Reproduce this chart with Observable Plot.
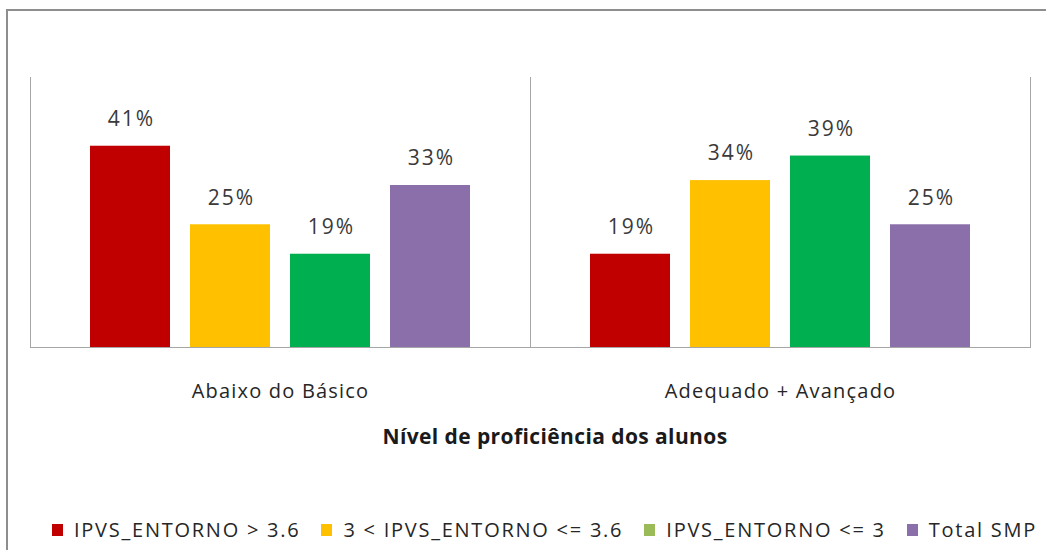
<!DOCTYPE html>
<html>
<head>
<meta charset="utf-8">
<script src="https://cdn.jsdelivr.net/npm/d3@7"></script>
<script src="https://cdn.jsdelivr.net/npm/@observablehq/plot@0.6"></script>
<style>
  html, body { margin: 0; padding: 0; background: #fff; overflow: hidden; width: 1046px; height: 550px; }
  #box { position: absolute; left: 6px; top: 9px; width: 1100px; height: 600px;
         border-left: 2px solid #8e8e8e; border-top: 2px solid #8e8e8e; }
  #chart { position: absolute; left: 0; top: 0; }
  #title { position: absolute; left: 0; width: 1110px; top: 422px; text-align: center;
           font-family: "Open Sans", sans-serif; font-weight: 700; font-size: 21px; letter-spacing: 0.4px;
           color: #1a1a1a; white-space: nowrap; }
  #legend { position: absolute; left: 52px; top: 516px; display: flex; gap: 21px; white-space: nowrap;
            font-family: "Open Sans", sans-serif; font-size: 20px; letter-spacing: 1.75px; color: #262626; }
  .item { display: flex; align-items: center; }
  .sw { width: 11px; height: 12px; margin-right: 11px; flex: none; }
  .c g[aria-label="text"] text { letter-spacing: 2px; }
  .c g[aria-label="fx-axis tick label"] text { letter-spacing: 1.2px; }
</style>
</head>
<body>
<div id="box"></div>
<div id="chart"></div>
<div id="title"></div>
<div id="legend"></div>
<script>
const categories = ["Abaixo do Básico", "Adequado + Avançado"];
const seriesNames = ["IPVS_ENTORNO > 3.6", "3 < IPVS_ENTORNO <= 3.6", "IPVS_ENTORNO <= 3", "Total SMP"];
const seriesColors = ["#C00000", "#FFC000", "#00B050", "#8A6FAB"];
const legendColors = ["#C00000", "#FFC000", "#9BBB59", "#8A6FAB"];
const valuesAbaixo = [0.41, 0.25, 0.19, 0.33];
const valuesAdequado = [0.19, 0.34, 0.39, 0.25];
const axisTitle = "Nível de proficiência dos alunos";

const data = [];
[valuesAbaixo, valuesAdequado].forEach((vals, ci) => {
  vals.forEach((v, si) => data.push({category: categories[ci], series: seriesNames[si], value: v}));
});

const chart = Plot.plot({
  className: "c",
  width: 1046,
  height: 420,
  marginTop: 77,
  marginBottom: 73,
  marginLeft: 30,
  marginRight: 16,
  style: {fontFamily: "'Open Sans', sans-serif", background: "transparent"},
  fx: {domain: categories, padding: 0},
  x: {domain: seriesNames, paddingInner: 0.2, paddingOuter: 0.6, axis: null},
  y: {domain: [0, 0.55], axis: null},
  color: {domain: seriesNames, range: seriesColors},
  marks: [
    Plot.barY(data, {fx: "category", x: "series", y: "value", fill: "series"}),
    Plot.text(data, {fx: "category", x: "series", y: "value", text: d => Math.round(d.value * 100) + "%",
      dy: -27, dx: 1, fontSize: 21, fill: "#3a3a3a"}),
    Plot.frame({anchor: "left", stroke: "#a6a6a6"}),
    Plot.frame({anchor: "right", stroke: "#a6a6a6"}),
    Plot.ruleY([0], {stroke: "#a6a6a6"}),
    Plot.axisFx({anchor: "bottom", tickSize: 0, tickPadding: 36, fontSize: 20, label: null, fill: "#262626"})
  ]
});
document.getElementById("chart").appendChild(chart);
document.getElementById("title").textContent = axisTitle;

const legend = document.getElementById("legend");
seriesNames.forEach((name, i) => {
  const item = document.createElement("div");
  item.className = "item";
  const sw = document.createElement("span");
  sw.className = "sw";
  sw.style.background = legendColors[i];
  const t = document.createElement("span");
  t.textContent = name;
  item.appendChild(sw); item.appendChild(t);
  legend.appendChild(item);
});
</script>
</body>
</html>
